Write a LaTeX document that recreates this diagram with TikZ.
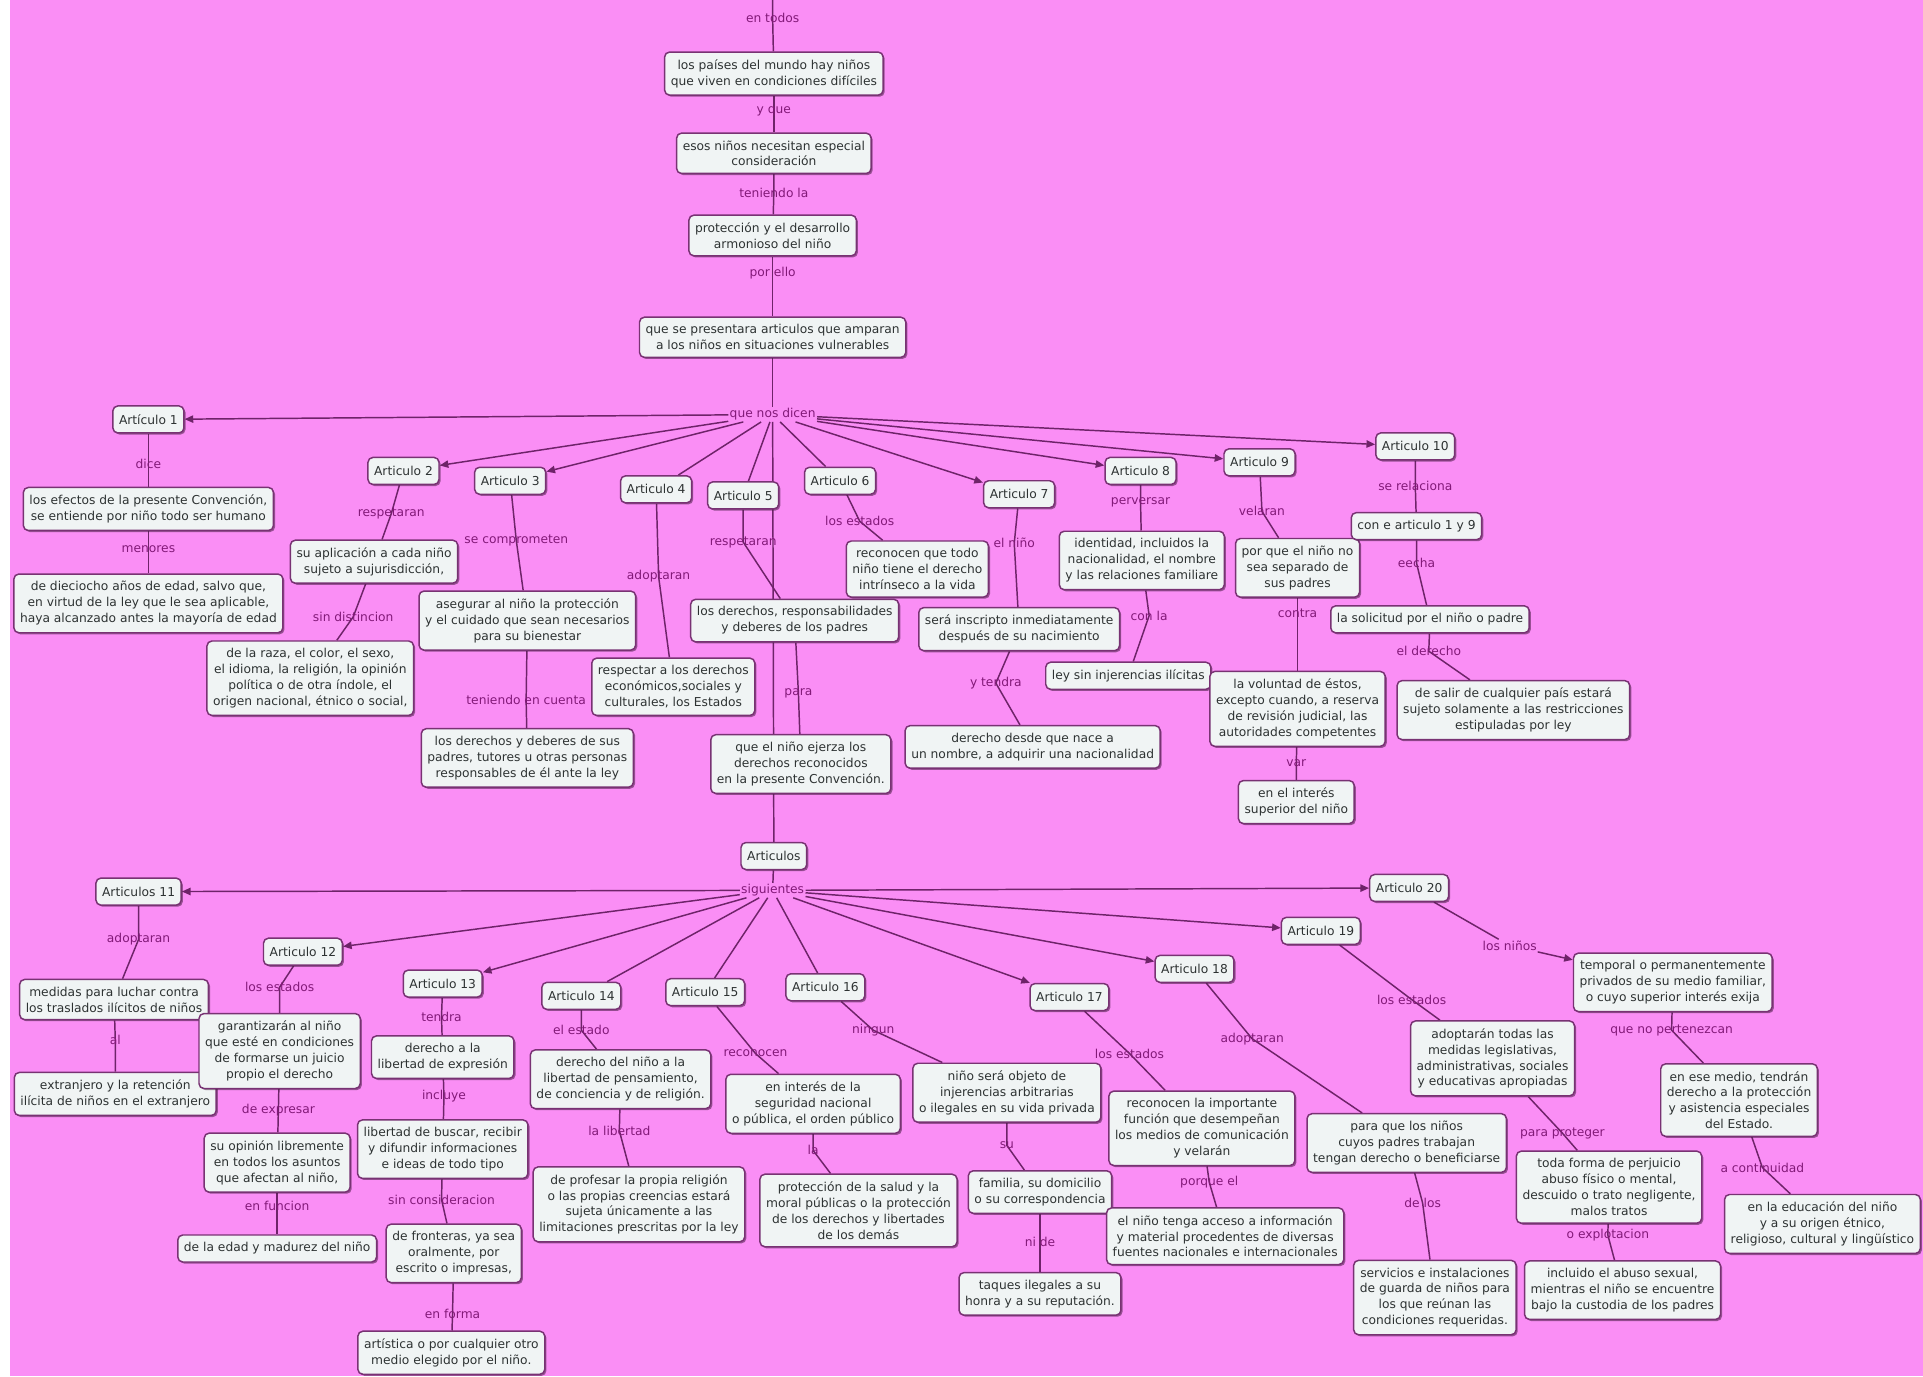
\documentclass[tikz,border=0pt]{standalone}
\usepackage{fontspec}
\setmainfont{DejaVu Sans}
\usetikzlibrary{arrows.meta,shadows}

\definecolor{mapbg}{RGB}{250,142,245}
\definecolor{boxfill}{RGB}{240,244,244}
\definecolor{boxline}{RGB}{120,50,115}
\definecolor{boxtext}{RGB}{45,50,50}
\definecolor{linktext}{RGB}{130,25,120}
\definecolor{linkline}{RGB}{110,35,105}

\pgfdeclarelayer{back}
\pgfdeclarelayer{links}
\pgfsetlayers{back,links,main}

% line from a concept through a linking word to the next concept
\newcommand{\linkvia}[3]{\draw[link] (#1) -- (#2.center) -- (#3);}

\begin{document}
\begin{tikzpicture}[x=1pt,y=-1pt,
    concept/.style={draw=boxline,fill=boxfill,line width=1.2pt,rounded corners=4pt,
        drop shadow={shadow xshift=1.3pt,shadow yshift=-1.3pt,fill=boxline!60!black,opacity=.55},
        align=center,inner xsep=5pt,inner ysep=6pt,minimum height=22pt,
        text=boxtext,font=\fontsize{10}{13}\selectfont},
    word/.style={text=linktext,inner sep=1pt,font=\fontsize{10}{13}\selectfont},
    link/.style={draw=linkline,line width=1.2pt},
    >={Triangle[length=7pt,width=6pt]}]
    \useasboundingbox (0,0) rectangle (1568,1122);
    \begin{pgfonlayer}{back}
    \fill[white] (0,0) rectangle (1568,1122);
    \fill[mapbg] (8,0) rectangle (1568,1122);
    \end{pgfonlayer}

    % top chain
    \coordinate (top) at (630,0);
    \node[word] (ltodos) at (630,15) {en todos};
    \node[concept] (pais) at (631,60) {los países del mundo hay niños\\que viven en condiciones difíciles};
    \node[word] (lyque) at (631,91) {y que};
    \node[concept] (nece) at (631,125) {esos niños necesitan especial\\consideración};
    \node[word] (lten) at (631,157) {teniendo la};
    \node[concept] (prot) at (630,192) {protección y el desarrollo\\armonioso del niño};
    \node[word] (lpor) at (630,223) {por ello};
    \node[concept] (pres) at (630,275) {que se presentara articulos que amparan\\a los niños en situaciones vulnerables};
    \node[word] (dicen) at (630,338) {que nos dicen};

    % articulos 1 a 10
    \foreach \n/\x/\y/\t in {1/121/342/Artículo 1, 2/329/384/Articulo 2, 3/416/392/Articulo 3,
        4/535/399/Articulo 4, 5/606/404/Articulo 5, 6/685/392/Articulo 6, 7/831/403/Articulo 7,
        8/930/384/Articulo 8, 9/1027/377/Articulo 9, 10/1154/364/Articulo 10}
        \node[concept] (art\n) at (\x,\y) {\t};

    \node[word] (l1a) at (121,378) {dice};
    \node[concept] (art1a) at (121,415) {los efectos de la presente Convención,\\se entiende por niño todo ser humano};
    \node[word] (l1b) at (121,448) {menores};
    \node[concept] (art1b) at (121,492) {de dieciocho años de edad, salvo que,\\en virtud de la ley que le sea aplicable,\\haya alcanzado antes la mayoría de edad};

    \node[word] (l2a) at (319,419) {respetaran};
    \node[concept] (art2a) at (305,458) {su aplicación a cada niño\\sujeto a sujurisdicción,};
    \node[word] (l2b) at (288,503) {sin distincion};
    \node[concept] (art2b) at (253,553) {de la raza, el color, el sexo,\\el idioma, la religión, la opinión\\política o de otra índole, el\\origen nacional, étnico o social,};

    \node[word] (l3a) at (421,441) {se comprometen};
    \node[concept] (art3a) at (430,506) {asegurar al niño la protección\\y el cuidado que sean necesarios\\para su bienestar};
    \node[word] (l3b) at (429,571) {teniendo en cuenta};
    \node[concept] (art3b) at (430,618) {los derechos y deberes de sus\\padres, tutores u otras personas\\responsables de él ante la ley};

    \node[word] (l4a) at (537,470) {adoptaran};
    \node[concept] (art4a) at (549,560) {respectar a los derechos\\económicos,sociales y\\culturales, los Estados};

    \node[word] (l5a) at (606,442) {respetaran};
    \node[concept] (art5a) at (648,506) {los derechos, responsabilidades\\y deberes de los padres};
    \node[word] (l5b) at (651,565) {para};
    \node[concept] (art5b) at (653,623) {que el niño ejerza los\\derechos reconocidos\\en la presente Convención.};

    \node[word] (l6a) at (701,425) {los estados};
    \node[concept] (art6a) at (748,464) {reconocen que todo\\niño tiene el derecho\\intrínseco a la vida};

    \node[word] (l7a) at (827,443) {el niño};
    \node[concept] (art7a) at (831,513) {será inscripto inmediatamente\\después de su nacimiento};
    \node[word] (l7b) at (812,557) {y tendra};
    \node[concept] (art7b) at (842,609) {derecho desde que nace a\\un nombre, a adquirir una nacionalidad};

    \node[word] (l8a) at (930,410) {perversar};
    \node[concept] (art8a) at (931,457) {identidad, incluidos la\\nacionalidad, el nombre\\y las relaciones familiare};
    \node[word] (l8b) at (937,502) {con la};
    \node[concept] (art8b) at (920,551) {ley sin injerencias ilícitas};

    \node[word] (l9a) at (1029,417) {velaran};
    \node[concept] (art9a) at (1058,463) {por que el niño no\\sea separado de\\sus padres};
    \node[word] (l9b) at (1058,500) {contra};
    \node[concept] (art9b) at (1058,578) {la voluntad de éstos,\\excepto cuando, a reserva\\de revisión judicial, las\\autoridades competentes};
    \node[word] (l9c) at (1057,622) {var};
    \node[concept] (art9c) at (1057,654) {en el interés\\superior del niño};

    \node[word] (l10a) at (1154,396) {se relaciona};
    \node[concept] (art10a) at (1155,429) {con e articulo 1 y 9};
    \node[word] (l10b) at (1155,459) {eecha};
    \node[concept] (art10b) at (1166,505) {la solicitud por el niño o padre};
    \node[word] (l10c) at (1165,531) {el derecho};
    \node[concept] (art10c) at (1234,579) {de salir de cualquier país estará\\sujeto solamente a las restricciones\\estipuladas por ley};

    % articulos 11 a 20
    \node[concept] (arts) at (631,698) {Articulos};
    \node[word] (sig) at (630,726) {siguientes};
    \foreach \n/\x/\y/\t in {11/113/727/Articulos 11, 12/247/776/Articulo 12, 13/361/802/Articulo 13,
        14/474/812/Articulo 14, 15/575/809/Articulo 15, 16/673/805/Articulo 16, 17/872/813/Articulo 17,
        18/974/790/Articulo 18, 19/1077/759/Articulo 19, 20/1149/724/Articulo 20}
        \node[concept] (art\n) at (\x,\y) {\t};

    \node[word] (l11a) at (113,766) {adoptaran};
    \node[concept] (art11a) at (93,815) {medidas para luchar contra\\los traslados ilícitos de niños};
    \node[word] (l11b) at (94,848) {al};
    \node[concept] (art11b) at (94,892) {extranjero y la retención\\ilícita de niños en el extranjero};

    \node[word] (l12a) at (228,805) {los estados};
    \node[concept] (art12a) at (228,857) {garantizarán al niño\\que esté en condiciones\\de formarse un juicio\\propio el derecho};
    \node[word] (l12b) at (227,905) {de expresar};
    \node[concept] (art12b) at (226,948) {su opinión libremente\\en todos los asuntos\\que afectan al niño,};
    \node[word] (l12c) at (226,983) {en funcion};
    \node[concept] (art12c) at (226,1018) {de la edad y madurez del niño};

    \node[word] (l13a) at (360,829) {tendra};
    \node[concept] (art13a) at (361,862) {derecho a la\\libertad de expresión};
    \node[word] (l13b) at (362,894) {incluye};
    \node[concept] (art13b) at (361,937) {libertad de buscar, recibir\\y difundir informaciones\\e ideas de todo tipo};
    \node[word] (l13c) at (360,978) {sin consideracion};
    \node[concept] (art13c) at (370,1022) {de fronteras, ya sea\\oralmente, por\\escrito o impresas,};
    \node[word] (l13d) at (369,1071) {en forma};
    \node[concept] (art13d) at (368,1103) {artística o por cualquier otro\\medio elegido por el niño.};

    \node[word] (l14a) at (474,840) {el estado};
    \node[concept] (art14a) at (506,880) {derecho del niño a la\\libertad de pensamiento,\\de conciencia y de religión.};
    \node[word] (l14b) at (505,922) {la libertad};
    \node[concept] (art14b) at (521,982) {de profesar la propia religión\\o las propias creencias estará\\sujeta únicamente a las\\limitaciones prescritas por la ley};

    \node[word] (l15a) at (616,859) {reconocen};
    \node[concept] (art15a) at (663,900) {en interés de la\\seguridad nacional\\o pública, el orden público};
    \node[word] (l15b) at (663,938) {la};
    \node[concept] (art15b) at (700,987) {protección de la salud y la\\moral públicas o la protección\\de los derechos y libertades\\de los demás};

    \node[word] (l16a) at (712,840) {ningun};
    \node[concept] (art16a) at (821,891) {niño será objeto de\\injerencias arbitrarias\\o ilegales en su vida privada};
    \node[word] (l16b) at (821,934) {su};
    \node[concept] (art16b) at (848,972) {familia, su domicilio\\o su correspondencia};
    \node[word] (l16c) at (848,1013) {ni de};
    \node[concept] (art16c) at (848,1055) {taques ilegales a su\\honra y a su reputación.};

    \node[word] (l17a) at (921,859) {los estados};
    \node[concept] (art17a) at (980,920) {reconocen la importante\\función que desempeñan\\los medios de comunicación\\y velarán};
    \node[word] (l17b) at (986,964) {porque el};
    \node[concept] (art17b) at (999,1008) {el niño tenga acceso a información\\y material procedentes de diversas\\fuentes nacionales e internacionales};

    \node[word] (l18a) at (1021,847) {adoptaran};
    \node[concept] (art18a) at (1147,932) {para que los niños\\cuyos padres trabajan\\tengan derecho o beneficiarse};
    \node[word] (l18b) at (1160,981) {de los};
    \node[concept] (art18b) at (1170,1058) {servicios e instalaciones\\de guarda de niños para\\los que reúnan las\\condiciones requeridas.};

    \node[word] (l19a) at (1151,815) {los estados};
    \node[concept] (art19a) at (1217,863) {adoptarán todas las\\medidas legislativas,\\administrativas, sociales\\y educativas apropiadas};
    \node[word] (l19b) at (1274,924) {para proteger};
    \node[concept] (art19b) at (1312,968) {toda forma de perjuicio\\abuso físico o mental,\\descuido o trato negligente,\\malos tratos};
    \node[word] (l19c) at (1311,1007) {o explotacion};
    \node[concept] (art19c) at (1323,1052) {incluido el abuso sexual,\\mientras el niño se encuentre\\bajo la custodia de los padres};

    \node[word] (l20a) at (1231,771) {los niños};
    \node[concept] (art20a) at (1364,801) {temporal o permanentemente\\privados de su medio familiar,\\o cuyo superior interés exija};
    \node[word] (l20b) at (1363,840) {que no pertenezcan};
    \node[concept] (art20b) at (1418,897) {en ese medio, tendrán\\derecho a la protección\\y asistencia especiales\\del Estado.};
    \node[word] (l20c) at (1437,952) {a continuidad};
    \node[concept] (art20c) at (1486,998) {en la educación del niño\\y a su origen étnico,\\religioso, cultural y lingüístico};

    % connectors, behind the concepts
    \begin{pgfonlayer}{links}
    \draw[link] (top) -- (ltodos.center) -- (pais);
    \linkvia{pais}{lyque}{nece}
    \linkvia{nece}{lten}{prot}
    \linkvia{prot}{lpor}{pres}
    \draw[link] (pres) -- (dicen);
    \foreach \a in {1,2,3,7,8,9,10} \draw[link,->] (dicen) -- (art\a);
    \foreach \a in {4,5,6} \draw[link] (dicen) -- (art\a);
    \draw[link] (dicen) -- (arts);
    \linkvia{art1}{l1a}{art1a}
    \linkvia{art1a}{l1b}{art1b}
    \linkvia{art2}{l2a}{art2a}
    \linkvia{art2a}{l2b}{art2b}
    \linkvia{art3}{l3a}{art3a}
    \linkvia{art3a}{l3b}{art3b}
    \linkvia{art4}{l4a}{art4a}
    \linkvia{art5}{l5a}{art5a}
    \linkvia{art5a}{l5b}{art5b}
    \linkvia{art6}{l6a}{art6a}
    \linkvia{art7}{l7a}{art7a}
    \linkvia{art7a}{l7b}{art7b}
    \linkvia{art8}{l8a}{art8a}
    \linkvia{art8a}{l8b}{art8b}
    \linkvia{art9}{l9a}{art9a}
    \linkvia{art9a}{l9b}{art9b}
    \linkvia{art9b}{l9c}{art9c}
    \linkvia{art10}{l10a}{art10a}
    \linkvia{art10a}{l10b}{art10b}
    \linkvia{art10b}{l10c}{art10c}

    \draw[link] (arts) -- (sig);
    \foreach \a in {11,12,13,17,18,19,20} \draw[link,->] (sig) -- (art\a);
    \foreach \a in {14,15,16} \draw[link] (sig) -- (art\a);
    \linkvia{art11}{l11a}{art11a}
    \linkvia{art11a}{l11b}{art11b}
    \linkvia{art12}{l12a}{art12a}
    \linkvia{art12a}{l12b}{art12b}
    \linkvia{art12b}{l12c}{art12c}
    \linkvia{art13}{l13a}{art13a}
    \linkvia{art13a}{l13b}{art13b}
    \linkvia{art13b}{l13c}{art13c}
    \linkvia{art13c}{l13d}{art13d}
    \linkvia{art14}{l14a}{art14a}
    \linkvia{art14a}{l14b}{art14b}
    \linkvia{art15}{l15a}{art15a}
    \linkvia{art15a}{l15b}{art15b}
    \linkvia{art16}{l16a}{art16a}
    \linkvia{art16a}{l16b}{art16b}
    \linkvia{art16b}{l16c}{art16c}
    \linkvia{art17}{l17a}{art17a}
    \linkvia{art17a}{l17b}{art17b}
    \linkvia{art18}{l18a}{art18a}
    \linkvia{art18a}{l18b}{art18b}
    \linkvia{art19}{l19a}{art19a}
    \linkvia{art19a}{l19b}{art19b}
    \linkvia{art19b}{l19c}{art19c}
    \draw[link] (art20) -- (l20a);
    \draw[link,->] (l20a) -- (art20a);
    \linkvia{art20a}{l20b}{art20b}
    \linkvia{art20b}{l20c}{art20c}
    \end{pgfonlayer}
\end{tikzpicture}
\end{document}
